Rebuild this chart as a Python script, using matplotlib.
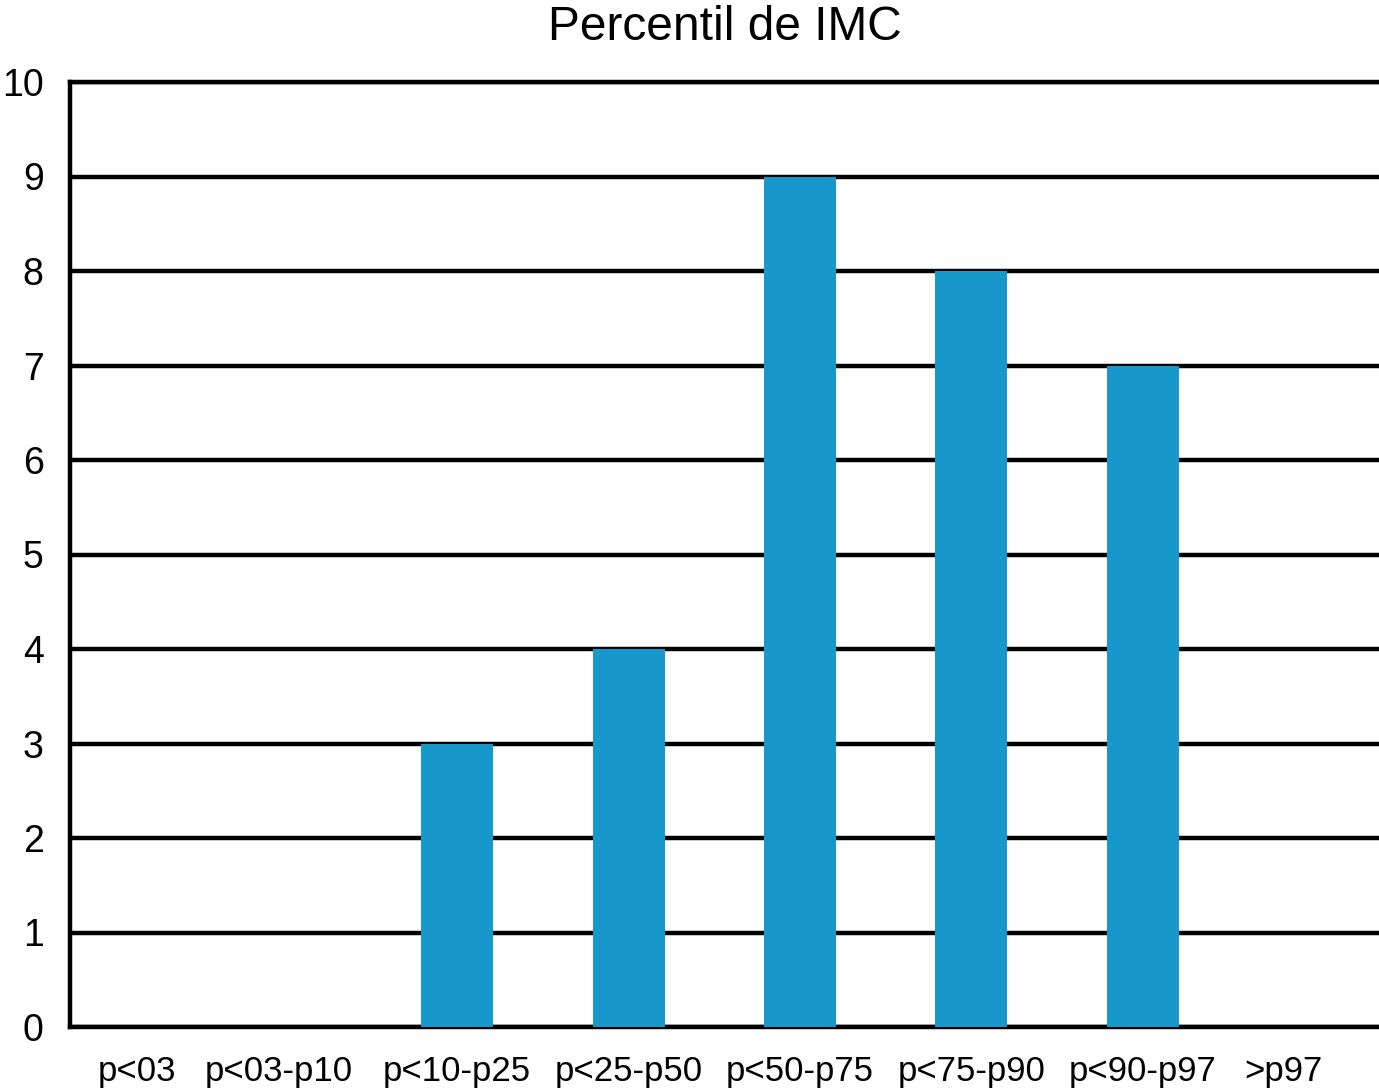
import matplotlib.pyplot as plt
import numpy as np

plt.rcParams['font.family'] = ['Liberation Sans', 'DejaVu Sans']

# data
categories = ['p<03', 'p<03-p10', 'p<10-p25', 'p<25-p50', 'p<50-p75',
              'p<75-p90', 'p<90-p97', '>p97']
counts = [0, 0, 3, 4, 9, 8, 7, 0]
# label positions (the outer labels sit a bit off the regular grid)
positions = [0.13, 0.96, 2, 3, 4, 5, 6, 6.82]
bar_color = '#1798CB'

fig = plt.figure(figsize=(13.79, 10.88), dpi=100)
ax = fig.add_axes([70 / 1379, 61 / 1088, 1 - 70 / 1379, 945 / 1088])

ax.bar(positions, counts, width=0.42, color=bar_color, zorder=3)

ax.set_xlim(-0.26, 7.38)
ax.set_ylim(0, 10)
ax.set_yticks(np.arange(0, 11, 1))
ax.set_xticks(positions)
ax.set_xticklabels(categories)

ax.yaxis.grid(True, color='black', linewidth=3.2)
ax.set_axisbelow(True)

for side in ['left', 'bottom', 'top']:
    ax.spines[side].set_linewidth(3.2)
    ax.spines[side].set_color('black')
ax.spines['right'].set_visible(False)

ax.tick_params(axis='y', length=0, pad=19, labelsize=27)
ax.tick_params(axis='x', length=0, pad=20, labelsize=25)

ax.set_title('Percentil de IMC', fontsize=34.5, pad=30)

fig.savefig('out.png', dpi=100)
